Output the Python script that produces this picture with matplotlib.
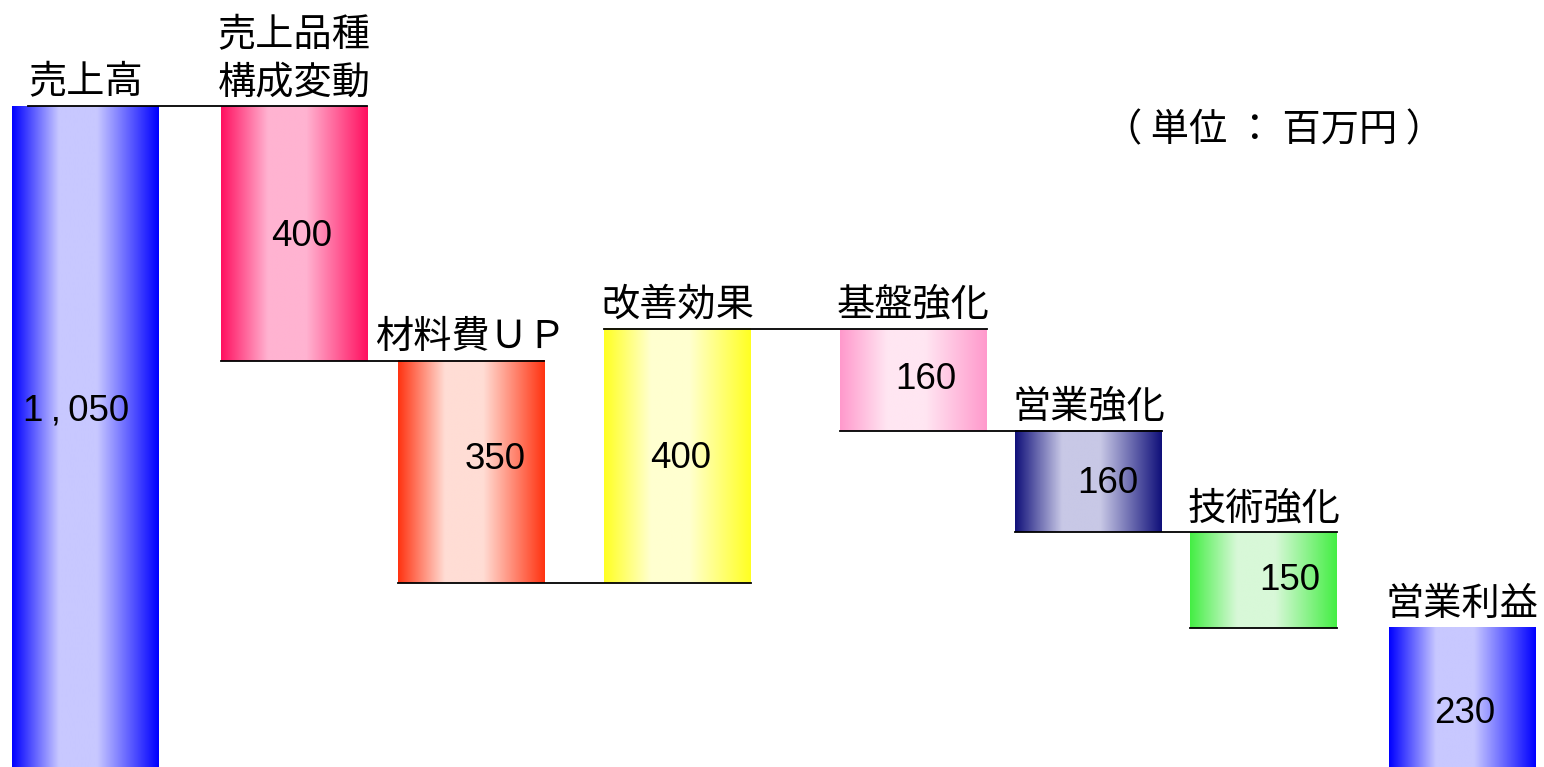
import numpy as np
import matplotlib.pyplot as plt
from matplotlib.colors import LinearSegmentedColormap

plt.rcParams['font.family'] = ['Noto Sans CJK JP', 'DejaVu Sans']

# data
categories = ['売上高', '売上品種\n構成変動', '材料費ＵＰ', '改善効果',
              '基盤強化', '営業強化', '技術強化', '営業利益']
values = [1050, -400, -350, 400, -160, -160, -150, 230]
value_labels = ['1\u2009,\u2009050', '400', '350', '400', '160', '160', '150', '230']
is_total = [True, False, False, False, False, False, False, True]
unit_text = '（ 単位 ： 百万円 ）'

# layout / style
pos = [0.0, 1.06, 1.96, 3.01, 4.21, 5.10, 5.99, 7.0]
bar_w = 0.747
edge_cols = ['#0000ff', '#ff1060', '#ff3311', '#ffff22', '#ff99cc', '#10107a', '#44ee44', '#0000ff']
mid_cols = ['#c8c8ff', '#ffb3d1', '#ffddd5', '#ffffd0', '#ffe6f2', '#c8c8e6', '#d8f8d8', '#c8c8ff']
lab_dx = [-9, 8, 24, 3, 12, 19, 26, 2]     # pixels
lab_dy = [29, -3, 12, -2, 0, -2, 0, -13]

# waterfall levels
bottoms, tops = [], []
cum = 0
for v, tot in zip(values, is_total):
    if tot:
        b, t = 0, v
        cum = v
    else:
        b, t = min(cum, cum + v), max(cum, cum + v)
        cum = cum + v
    bottoms.append(b)
    tops.append(t)

fig = plt.figure(figsize=(15.44, 7.67), dpi=100)
ax = fig.add_axes([0, 0, 1, 1])

grad = np.linspace(0, 1, 256).reshape(1, -1)
for i in range(len(values)):
    cmap = LinearSegmentedColormap.from_list(
        'g%d' % i, [(0, edge_cols[i]), (0.32, mid_cols[i]), (0.58, mid_cols[i]), (1, edge_cols[i])])
    ax.imshow(grad, cmap=cmap, aspect='auto', interpolation='bilinear',
              extent=[pos[i] - bar_w / 2, pos[i] + bar_w / 2, bottoms[i], tops[i]], zorder=1)

# connector lines
cum = 0
ends = []
for i, v in enumerate(values):
    cum = v if is_total[i] else cum + v
    ends.append(cum)
for i in range(len(values) - 1):
    x0 = pos[i] - bar_w / 2
    if i == 0:
        x0 = pos[i] - 0.29
    if i < len(values) - 2:
        x1 = pos[i + 1] + bar_w / 2
    else:
        x1 = pos[i] + bar_w / 2
    ax.plot([x0, x1], [ends[i], ends[i]], color='black', lw=1.3, zorder=3)

# category labels
for i, c in enumerate(categories):
    ax.annotate(c, (pos[i], tops[i]), xytext=(0, 4), textcoords='offset pixels',
                ha='center', va='bottom', fontsize=27.5, linespacing=1.25, zorder=4)

# value labels
for i, s in enumerate(value_labels):
    ax.annotate(s, (pos[i], (bottoms[i] + tops[i]) / 2), xytext=(lab_dx[i], lab_dy[i]),
                textcoords='offset pixels', ha='center', va='center', fontsize=26.5,
                family=['Liberation Sans', 'DejaVu Sans'], zorder=4)

fig.text(0.715, 0.83, unit_text, ha='left', va='center', fontsize=27.5)

ax.set_xlim(-0.4347, 7.415)
ax.set_ylim(11, 1217)
ax.axis('off')

plt.savefig('out.png', dpi=100)
